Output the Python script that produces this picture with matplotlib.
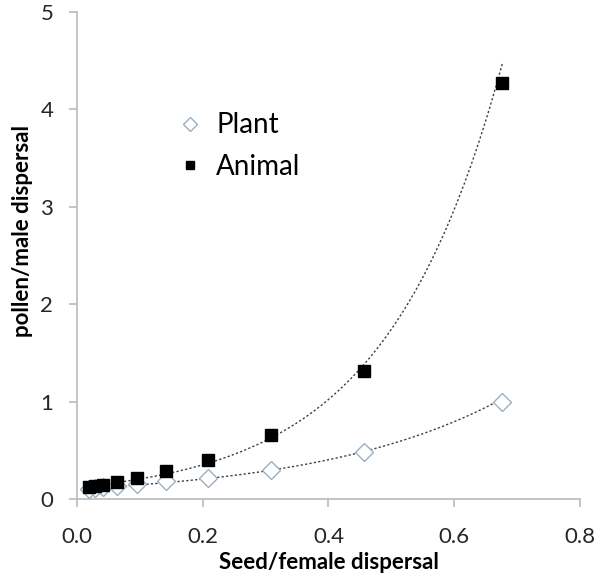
import numpy as np
import matplotlib
matplotlib.use('Agg')
import matplotlib.pyplot as plt

plt.rcParams['font.family'] = ['Lato', 'DejaVu Sans']

# values
seed_disp = [0.019, 0.029, 0.042, 0.064, 0.095, 0.141, 0.208, 0.308, 0.456, 0.676]
plant_pollen = [0.10, 0.11, 0.12, 0.13, 0.15, 0.18, 0.22, 0.30, 0.48, 1.00]
animal_pollen = [0.12, 0.13, 0.14, 0.17, 0.22, 0.29, 0.40, 0.66, 1.31, 4.27]

x_ticks = [0.0, 0.2, 0.4, 0.6, 0.8]
y_ticks = [0, 1, 2, 3, 4, 5]

grey = '#BFBFBF'

fig = plt.figure(figsize=(6, 5.84), dpi=100)
ax = fig.add_axes([0.128, 0.1455, 0.839, 0.834])

x = np.array(seed_disp)
xs = np.linspace(x.min(), x.max(), 200)

# exponential trendlines, like the spreadsheet ones
for ys in (plant_pollen, animal_pollen):
    b, ln_a = np.polyfit(x, np.log(ys), 1)
    ax.plot(xs, np.exp(ln_a + b * xs), linestyle=(0, (1.6, 1.6)),
            color='#404040', lw=1, zorder=2)

ax.plot(seed_disp, plant_pollen, 'D', ms=9, mfc='white', mec='#9AAFC2',
        mew=1.0, ls='none', label='Plant', zorder=3)
ax.plot(seed_disp, animal_pollen, 's', ms=8.5, mfc='black', mec='black',
        ls='none', label='Animal', zorder=4)

ax.set_xlim(0, 0.8)
ax.set_ylim(0, 5)
ax.set_xticks(x_ticks)
ax.set_xticklabels(['%.1f' % t for t in x_ticks])
ax.set_yticks(y_ticks)

for side in ('top', 'right'):
    ax.spines[side].set_visible(False)
for side in ('left', 'bottom'):
    ax.spines[side].set_color(grey)
    ax.spines[side].set_linewidth(1.3)

ax.tick_params(direction='out', length=6, width=1.3, color=grey,
               labelsize=16, labelcolor='#262626')
ax.tick_params(axis='x', pad=14)
ax.tick_params(axis='y', pad=11)

ax.set_xlabel('Seed/female dispersal', fontsize=16, fontweight='bold',
              labelpad=4)
ax.set_ylabel('pollen/male dispersal', fontsize=16, fontweight='bold')
ax.yaxis.set_label_coords(-0.088, 0.55)

ax.legend(loc='upper left', bbox_to_anchor=(0.15, 0.845), frameon=False,
          fontsize=20, markerscale=0.75, handlelength=0.9,
          handletextpad=0.5, labelspacing=0.55)

fig.savefig('out.png', dpi=100)
